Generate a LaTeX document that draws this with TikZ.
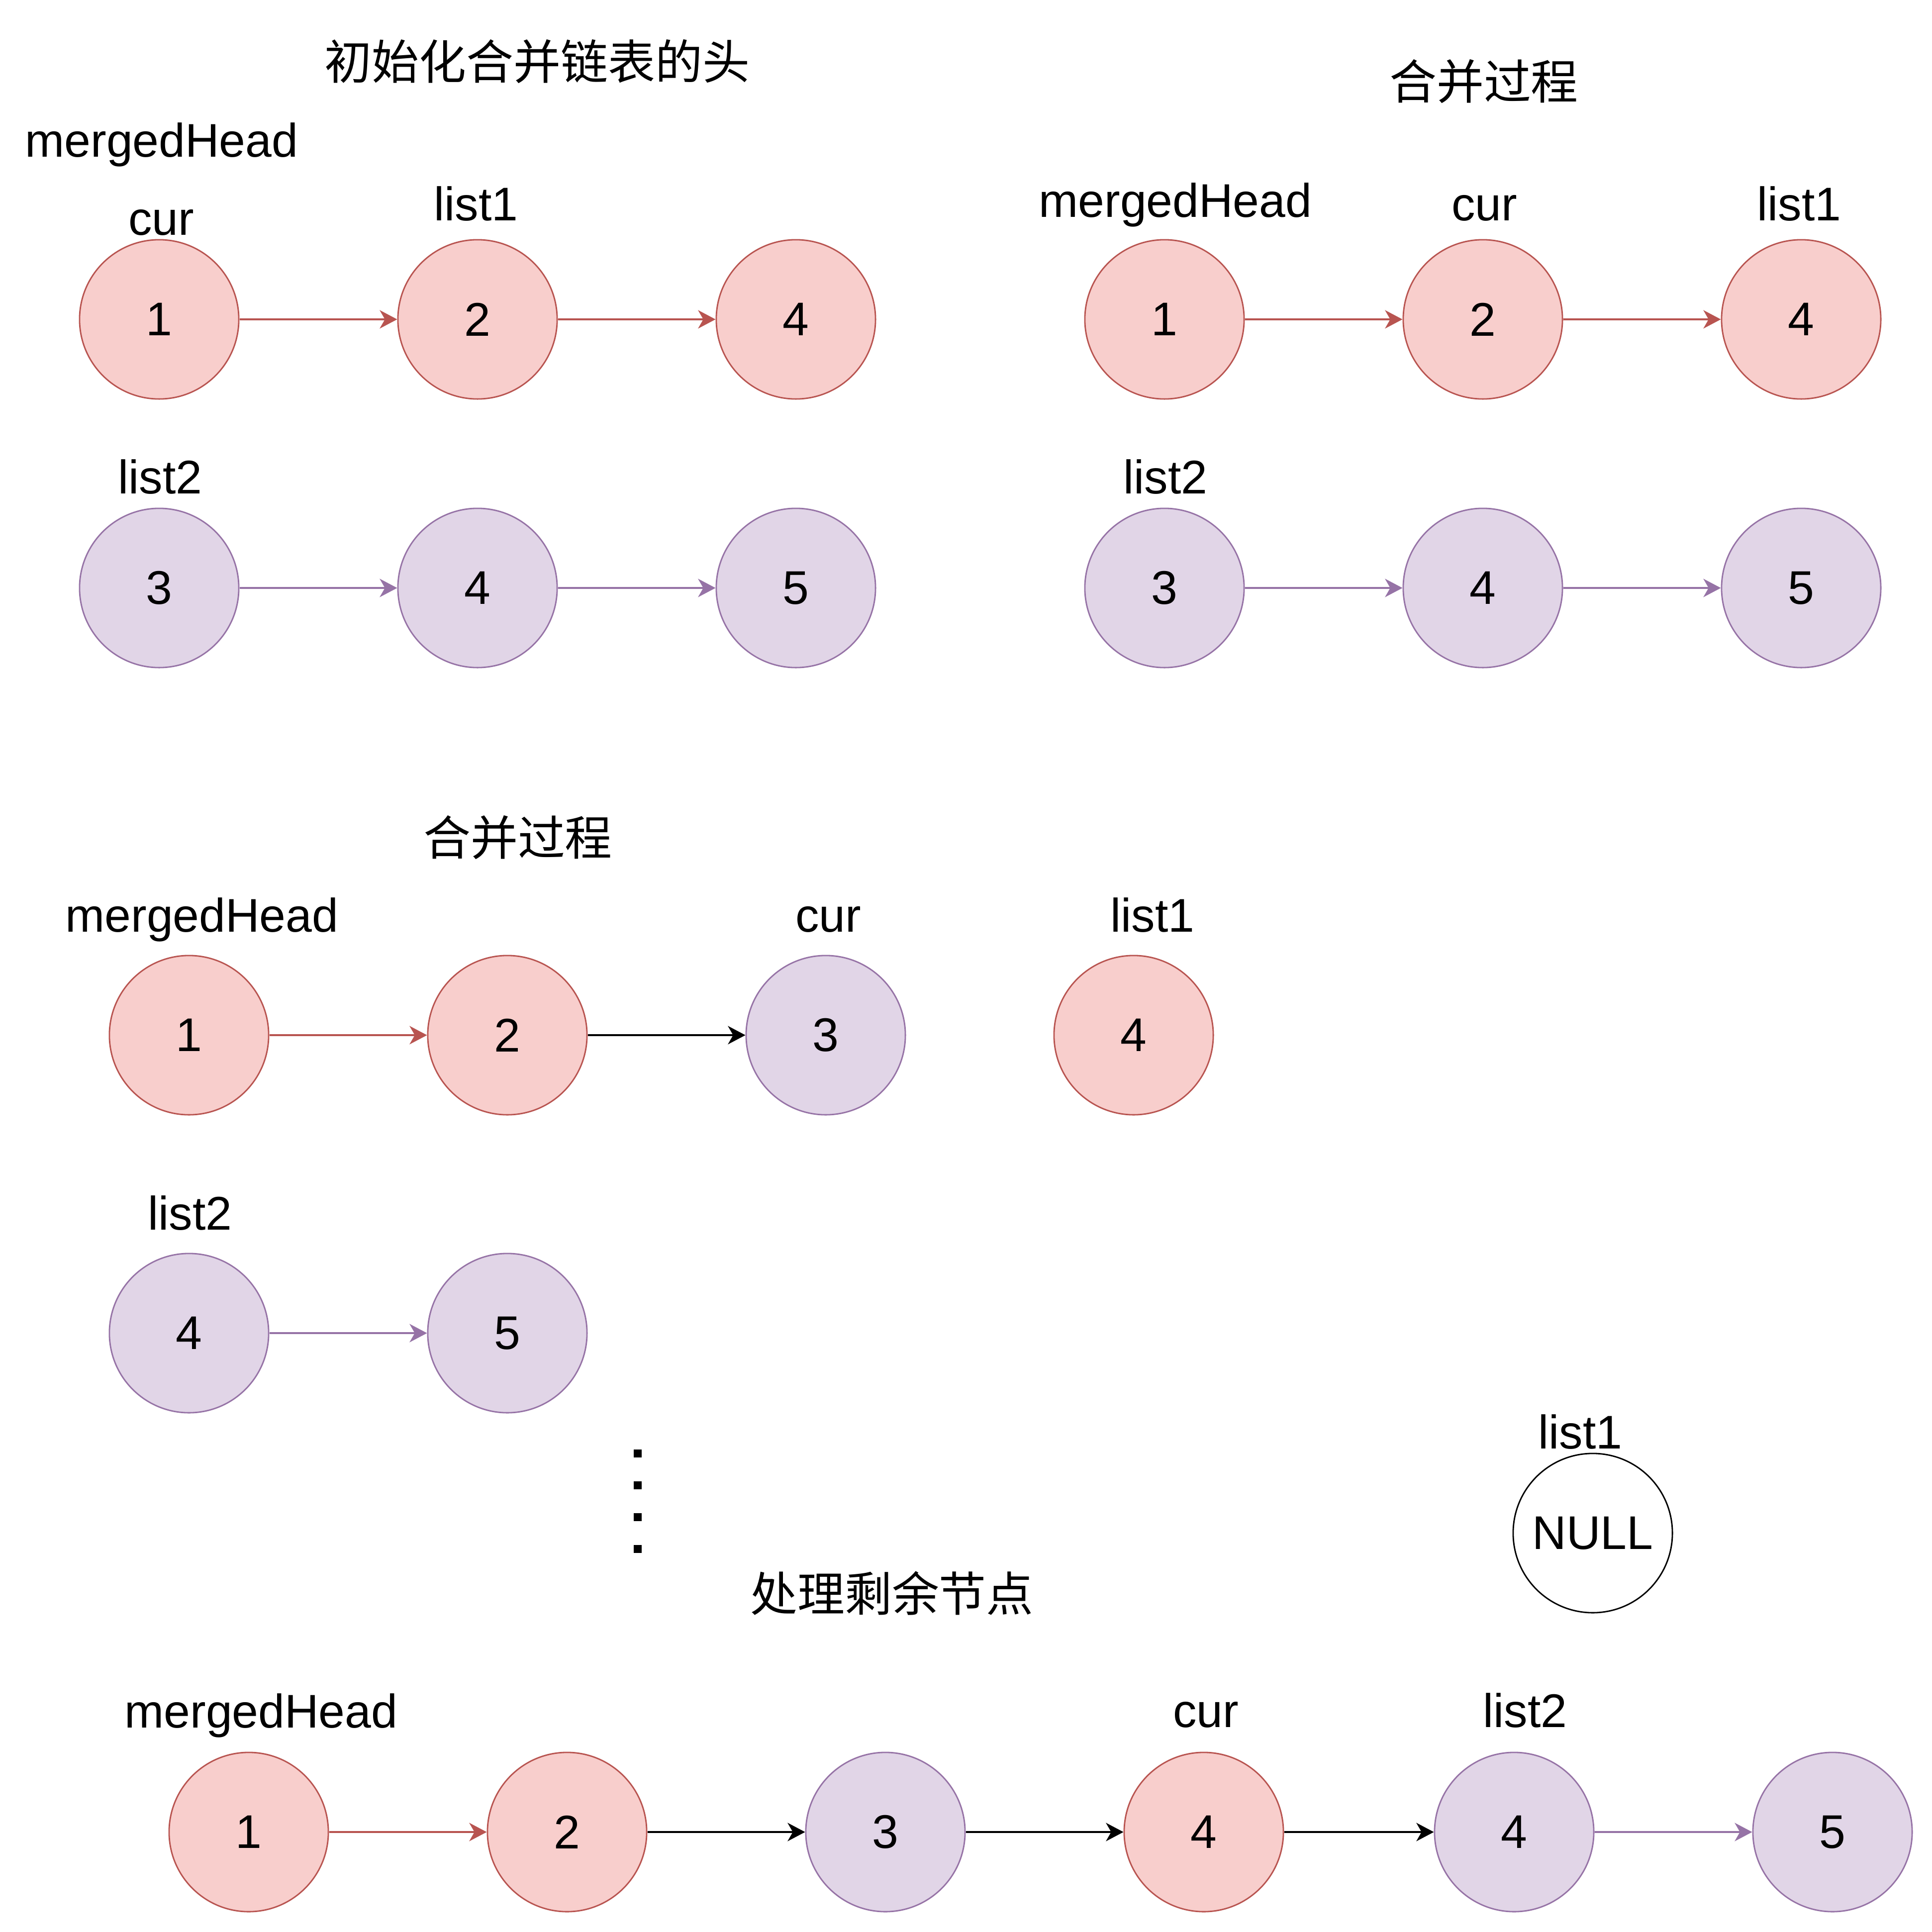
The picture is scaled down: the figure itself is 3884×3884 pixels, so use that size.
\documentclass[tikz,border=0pt]{standalone}
\usepackage{fontspec}
\setmainfont{Liberation Sans}
\newfontfamily\cjk{Noto Sans CJK SC}
\usetikzlibrary{arrows.meta}
\definecolor{redfill}{HTML}{F8CECC}
\definecolor{redline}{HTML}{B85450}
\definecolor{purfill}{HTML}{E1D5E7}
\definecolor{purline}{HTML}{9673A6}
\begin{document}
\begin{tikzpicture}[x=0.01cm,y=-0.01cm,
  every node/.style={font=\fontsize{27}{32}\selectfont},
  cnode/.style={circle, line width=0.8pt, minimum size=3.2cm, inner sep=0pt},
  rnode/.style={cnode, draw=redline, fill=redfill},
  pnode/.style={cnode, draw=purline, fill=purfill},
  nnode/.style={cnode, draw=black, fill=white},
  lbl/.style={anchor=base},
  ttl/.style={anchor=base, font=\cjk\fontsize{27}{32}\selectfont},
  link/.style={-{Stealth[length=10pt,width=10.5pt,inset=3pt]}, line width=1pt},
  rlink/.style={link, draw=redline, fill=redline},
  plink/.style={link, draw=purline, fill=purline},
  blink/.style={link, draw=black, fill=black}
]
\useasboundingbox (0,0) rectangle (3884,3884);

% ---------- Panel 1 ----------
\node[ttl] (t1) at (1080,159) {初始化合并链表的头};
\node[lbl] (m1) at (325,315) {mergedHead};
\node[lbl] (c1) at (324,472) {cur};
\node[lbl] (l1a) at (957,443) {list1};
\node[lbl] (l2a) at (322,992) {list2};
\node[rnode] (a1) at (320,642) {1};
\node[rnode] (a2) at (960,642) {2};
\node[rnode] (a3) at (1600,642) {4};
\node[pnode] (b1) at (320,1182) {3};
\node[pnode] (b2) at (960,1182) {4};
\node[pnode] (b3) at (1600,1182) {5};
\draw[rlink] (a1) -- (a2);
\draw[rlink] (a2) -- (a3);
\draw[plink] (b1) -- (b2);
\draw[plink] (b2) -- (b3);

% ---------- Panel 2 ----------
\node[ttl] (t2) at (2983,199) {合并过程};
\node[lbl] (m2) at (2363,436) {mergedHead};
\node[lbl] (c2) at (2984,443) {cur};
\node[lbl] (l1b) at (3617,443) {list1};
\node[lbl] (l2b) at (2343,992) {list2};
\node[rnode] (d1) at (2341,642) {1};
\node[rnode] (d2) at (2981,642) {2};
\node[rnode] (d3) at (3621,642) {4};
\node[pnode] (e1) at (2341,1182) {3};
\node[pnode] (e2) at (2981,1182) {4};
\node[pnode] (e3) at (3621,1182) {5};
\draw[rlink] (d1) -- (d2);
\draw[rlink] (d2) -- (d3);
\draw[plink] (e1) -- (e2);
\draw[plink] (e2) -- (e3);

% ---------- Panel 3 ----------
\node[ttl] (t3) at (1041,1719) {合并过程};
\node[lbl] (m3) at (406,1873) {mergedHead};
\node[lbl] (c3) at (1665,1873) {cur};
\node[lbl] (l1c) at (2317,1873) {list1};
\node[lbl] (l2c) at (382,2472) {list2};
\node[rnode] (f1) at (380,2081) {1};
\node[rnode] (f2) at (1020,2081) {2};
\node[pnode] (f3) at (1660,2081) {3};
\node[rnode] (f4) at (2279,2081) {4};
\node[pnode] (g1) at (380,2680) {4};
\node[pnode] (g2) at (1020,2680) {5};
\draw[rlink] (f1) -- (f2);
\draw[blink] (f2) -- (f3);
\draw[plink] (g1) -- (g2);

% ---------- dots ----------
\foreach \yy in {2922,2986,3050,3114}
  \fill (1274,\yy-8) rectangle +(16,16);

% ---------- Panel 4 ----------
\node[ttl] (t4) at (1793,3239) {处理剩余节点};
\node[lbl] (l1d) at (3177,2912) {list1};
\node[nnode] (nl) at (3202,3082) {NULL};
\node[lbl] (m4) at (525,3473) {mergedHead};
\node[lbl] (c4) at (2424,3472) {cur};
\node[lbl] (l2d) at (3066,3472) {list2};
\node[rnode] (h1) at (500,3683) {1};
\node[rnode] (h2) at (1140,3683) {2};
\node[pnode] (h3) at (1780,3683) {3};
\node[rnode] (h4) at (2420,3683) {4};
\node[pnode] (h5) at (3044,3683) {4};
\node[pnode] (h6) at (3684,3683) {5};
\draw[rlink] (h1) -- (h2);
\draw[blink] (h2) -- (h3);
\draw[blink] (h3) -- (h4);
\draw[blink] (h4) -- (h5);
\draw[plink] (h5) -- (h6);
\end{tikzpicture}
\end{document}
